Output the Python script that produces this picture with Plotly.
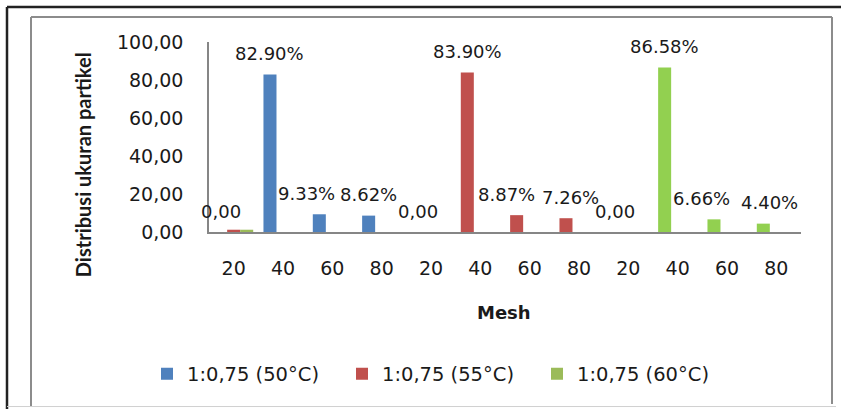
import plotly.graph_objects as go

# Mesh sizes, repeated for the three drying temperatures
mesh_labels = ["20", "40", "60", "80", "20", "40", "60", "80", "20", "40", "60", "80"]

series_names = ["1:0,75 (50°C)", "1:0,75 (55°C)", "1:0,75 (60°C)"]

# Particle size distribution (%) per mesh, one block of four per temperature
dist_50 = [0.00, 82.90, 9.33, 8.62]
dist_55 = [0.00, 83.90, 8.87, 7.26]
dist_60 = [0.00, 86.58, 6.66, 4.40]

# Small entries the 55°C and 60°C series carry in the first category
first_cat_55 = 1.2
first_cat_60 = 1.2

y_ticks = [0, 20, 40, 60, 80, 100]

# ---- layout geometry (pixels) ----
W, H = 841, 410
PL, PR, PT, PB = 209, 801, 42, 232.5   # plot area edges


def px_x(x):
    return (x - PL) / (PR - PL)


def px_y(y):
    return (PB - y) / (PB - PT)


BLUE = "#4F81BD"
RED = "#C0504D"
GREEN_LEG = "#9BBB59"
GREEN_BAR = "#92D050"

bw = 0.264              # bar width in category units
left_slot = -0.396      # left edge of the first slot of each cluster
mid_slot = left_slot + bw
right_slot = left_slot + 2 * bw

idx = list(range(len(mesh_labels)))
x50 = idx[0:4]
x55 = idx[4:8]
x60 = idx[8:12]

fig = go.Figure()

fig.add_trace(go.Bar(
    name=series_names[0], x=x50, y=dist_50,
    width=bw, offset=left_slot, marker_color=BLUE, marker_line_width=0,
))
fig.add_trace(go.Bar(
    name=series_names[1], x=[idx[0]] + x55, y=[first_cat_55] + dist_55,
    width=bw, offset=[mid_slot] + [left_slot] * 4,
    marker_color=RED, marker_line_width=0,
))
fig.add_trace(go.Bar(
    name=series_names[2], x=[idx[0]] + x60, y=[first_cat_60] + dist_60,
    width=bw, offset=[right_slot] + [left_slot] * 4,
    marker_color=[GREEN_LEG] + [GREEN_BAR] * 4, marker_line_width=0,
))

# value labels above each bar of the main series
label_font = dict(family="DejaVu Sans", size=18, color="#1a1a1a")
nudge = {2: -13, 6: -10, 7: 5, 10: -12, 11: 6}
all_vals = dist_50 + dist_55 + dist_60
for i, v in zip(idx, all_vals):
    txt = "0,00" if v == 0 else f"{v:.2f}%"
    fig.add_annotation(
        x=i + left_slot + bw / 2, y=v, text=txt, showarrow=False,
        xref="x", yref="y", xanchor="center", yanchor="middle", yshift=21,
        xshift=nudge.get(i, 0), font=label_font,
    )

# axis titles
fig.add_annotation(
    x=px_x(504), y=px_y(313), xref="paper", yref="paper", text="<b>Mesh</b>",
    xanchor="center", yanchor="middle",
    showarrow=False, font=dict(family="DejaVu Sans", size=18, color="#1a1a1a"),
)
fig.add_annotation(
    x=px_x(82.5), y=px_y(165), xref="paper", yref="paper",
    text="<b>Distribusi ukuran partikel</b>", textangle=-90,
    xanchor="center", yanchor="middle",
    showarrow=False, font=dict(family="Lato", size=20, color="#1a1a1a"),
)

# chart frame lines
frame = []
frame.append(dict(x0=7, y0=7, x1=841, y1=7, color="#222222", width=2.5))
frame.append(dict(x0=7, y0=7, x1=7, y1=410, color="#222222", width=2.5))
frame.append(dict(x0=31, y0=17, x1=832, y1=17, color="#8c8c8c", width=2))
frame.append(dict(x0=31, y0=17, x1=31, y1=407, color="#8c8c8c", width=2))
frame.append(dict(x0=832, y0=17, x1=832, y1=405, color="#8c8c8c", width=2))
frame.append(dict(x0=7, y0=407.5, x1=836, y1=407.5, color="#d0d0d0", width=1))
for f in frame:
    fig.add_shape(
        type="line", xref="paper", yref="paper",
        x0=px_x(f["x0"]), y0=px_y(f["y0"]), x1=px_x(f["x1"]), y1=px_y(f["y1"]),
        line=dict(color=f["color"], width=f["width"]),
    )

tick_font = dict(family="DejaVu Sans", size=19, color="#1a1a1a")

fig.update_layout(
    width=W, height=H,
    margin=dict(l=PL, r=W - PR, t=PT, b=H - PB),
    paper_bgcolor="white", plot_bgcolor="white",
    barmode="overlay",
    showlegend=True,
    legend=dict(
        orientation="h", x=px_x(147), y=px_y(375),
        xanchor="left", yanchor="middle",
        font=dict(family="DejaVu Sans", size=19.5, color="#1a1a1a"),
        entrywidth=150, bgcolor="rgba(0,0,0,0)",
    ),
    xaxis=dict(
        range=[-0.5, len(mesh_labels) - 0.5],
        tickmode="array", tickvals=idx, ticktext=mesh_labels,
        showline=True, linecolor="#868686", linewidth=1.5,
        showgrid=False, zeroline=False, ticks="",
        tickfont=tick_font, ticklabelstandoff=18,
        fixedrange=True,
    ),
    yaxis=dict(
        range=[0, 100], tickmode="array", tickvals=y_ticks,
        ticktext=[f"{t},00" for t in y_ticks],
        showline=True, linecolor="#868686", linewidth=1.5,
        showgrid=False, zeroline=False, ticks="",
        tickfont=tick_font, ticklabelstandoff=20,
        fixedrange=True,
    ),
)

fig.write_html("out.html")
